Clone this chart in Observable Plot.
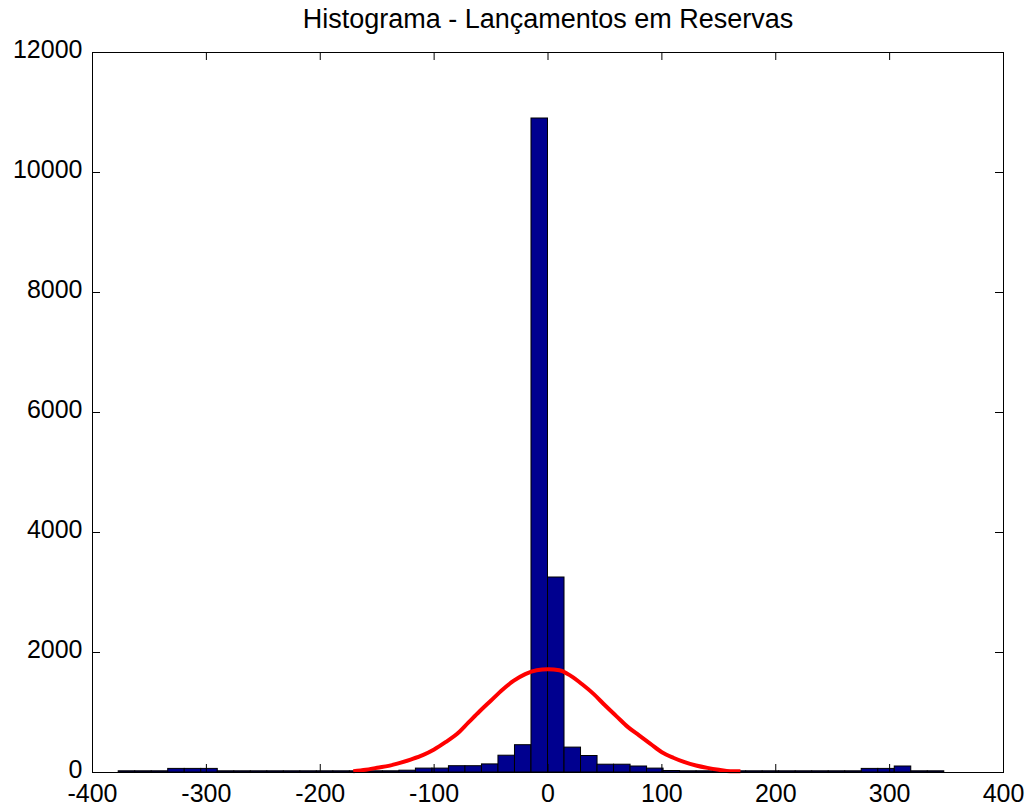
<!DOCTYPE html>
<html>
<head>
<meta charset="utf-8">
<script src="https://cdn.jsdelivr.net/npm/d3@7"></script>
<script src="https://cdn.jsdelivr.net/npm/@observablehq/plot@0.6"></script>
<style>
  html, body { margin: 0; padding: 0; background: #fff; }
  #chart svg { display: block; }
</style>
</head>
<body>
<div id="chart"></div>
<script>
// Histogram of reserve postings: 50 equal bins plus a fitted normal curve.
const binStart = -377;
const binWidth = 14.5;
const counts = [
  20, 20, 20, 60, 60, 60, 20, 20, 20, 20,
  20, 20, 20, 20, 20, 20, 20, 30, 65, 65,
  105, 105, 135, 280, 455, 10900, 3250, 415, 275, 130,
  130, 100, 65, 25, 20, 20, 20, 20, 20, 20,
  20, 20, 20, 20, 20, 60, 60, 100, 20, 20
];

// Fitted normal curve, sampled along x
const curveX = [-171, -160, -150, -140, -130, -120, -110, -100, -90, -80, -70, -60, -50, -40, -30, -20, -10, 0, 10, 20, 30, 40, 50, 60, 70, 80, 90, 100, 110, 120, 130, 140, 150, 160, 169];
const curveY = [20, 45, 80, 110, 160, 220, 290, 385, 505, 640, 830, 1020, 1200, 1380, 1530, 1640, 1705, 1722, 1705, 1610, 1470, 1310, 1120, 940, 760, 618, 477, 338, 246, 172, 117, 77, 46, 22, 20];

const xTicks = [-400, -300, -200, -100, 0, 100, 200, 300, 400];
const yTicks = [0, 2000, 4000, 6000, 8000, 10000, 12000];
const title = "Histograma - Lançamentos em Reservas";

const bins = counts.map((c, i) => ({
  x1: binStart + i * binWidth,
  x2: binStart + (i + 1) * binWidth,
  count: c
}));
const curve = curveX.map((x, i) => ({x, y: curveY[i]}));

const W = 1032, H = 810;
const mL = 92, mR = 29, mT = 52, mB = 38;
const innerW = W - mL - mR, innerH = H - mT - mB;
const tick = 8;
const font = "'Liberation Sans', Arial, Helvetica, sans-serif";

const chart = Plot.plot({
  width: W,
  height: H,
  marginLeft: mL,
  marginRight: mR,
  marginTop: mT,
  marginBottom: mB,
  style: {fontFamily: font, fontSize: "25px", color: "#000", background: "#fff"},
  x: {domain: [-400, 400]},
  y: {domain: [0, 12000]},
  marks: [
    Plot.rectY(bins, {x1: "x1", x2: "x2", y: "count", fill: "#00008F", stroke: "#000", strokeWidth: 1}),
    Plot.line(curve, {x: "x", y: "y", stroke: "#FF0000", strokeWidth: 4, strokeLinejoin: "round", strokeLinecap: "butt", curve: "monotone-x"}),
    Plot.frame({stroke: "#000", strokeWidth: 1}),
    // inward ticks on all four sides
    Plot.tickX(xTicks, {x: d => d, insetTop: innerH - tick, stroke: "#000"}),
    Plot.tickX(xTicks, {x: d => d, insetBottom: innerH - tick, stroke: "#000"}),
    Plot.tickY(yTicks, {y: d => d, insetRight: innerW - tick, stroke: "#000"}),
    Plot.tickY(yTicks, {y: d => d, insetLeft: innerW - tick, stroke: "#000"}),
    Plot.axisX(xTicks, {tickSize: 0, tickPadding: 12, tickFormat: d => String(d), fontSize: 25, label: null}),
    Plot.axisY(yTicks, {tickSize: 0, tickPadding: 10, dy: -3, tickFormat: d => String(d), fontSize: 25, label: null}),
    Plot.text([title], {frameAnchor: "top", dy: -44, fontSize: 27, fill: "#000"})
  ]
});

document.getElementById("chart").append(chart);
</script>
</body>
</html>
